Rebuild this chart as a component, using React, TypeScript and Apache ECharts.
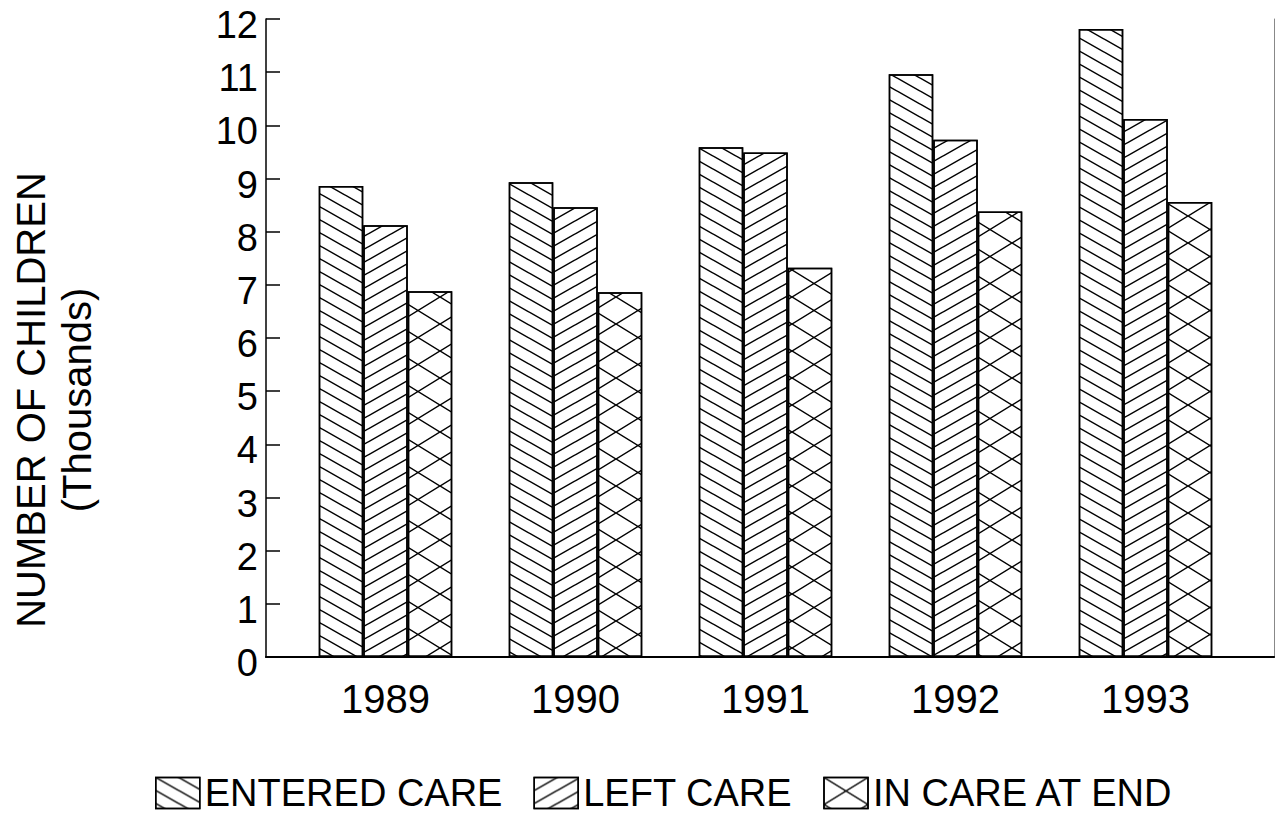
import React, { useEffect, useRef } from 'react';
import * as echarts from 'echarts';

const years = ['1989', '1990', '1991', '1992', '1993'];
const enteredCare = [8.86, 8.93, 9.59, 10.96, 11.81];
const leftCare = [8.12, 8.46, 9.49, 9.73, 10.12];
const inCareAtEnd = [6.88, 6.86, 7.32, 8.38, 8.56];
const seriesNames = ['ENTERED CARE', 'LEFT CARE', 'IN CARE AT END'];
const yMin = 0;
const yMax = 12;
const yStep = 1;

const FONT = '"Liberation Sans", Arial, Helvetica, sans-serif';

type Pt = [number, number];

function poly(pts: Pt[]): string {
  let area = 0;
  for (let i = 0; i < pts.length; i++) {
    const [x1, y1] = pts[i];
    const [x2, y2] = pts[(i + 1) % pts.length];
    area += x1 * y2 - x2 * y1;
  }
  const p = area < 0 ? pts.slice().reverse() : pts;
  return 'M' + p.map((q) => q[0].toFixed(3) + ',' + q[1].toFixed(3)).join('L') + 'Z';
}

function downPolys(W: number, H: number, t: number): Pt[][] {
  const a = t / 2;
  const d = (a * H) / W;
  return [
    [[0, 0], [a, 0], [W, H - d], [W, H], [W - a, H], [0, d]],
    [[W - a, 0], [W, 0], [W, d]],
    [[0, H - d], [0, H], [a, H]],
  ];
}

function mirror(polys: Pt[][], W: number): Pt[][] {
  return polys.map((pp) => pp.map((q) => [W - q[0], q[1]] as Pt));
}

function hatchDecal(kind: 'down' | 'up' | 'cross', W: number, H: number, t: number) {
  const down = downPolys(W, H, t);
  let polys: Pt[][] = [];
  if (kind === 'down') polys = down;
  else if (kind === 'up') polys = mirror(down, W);
  else polys = down.concat(mirror(down, W));
  const d = polys.map(poly).join(' ');
  return {
    symbol: 'path://' + d,
    symbolSize: 1,
    symbolKeepAspect: false,
    color: '#000',
    dashArrayX: [W, 0],
    dashArrayY: [H, 0],
    rotation: 0,
  };
}

const decals = [
  hatchDecal('down', 23, 13, 3),
  hatchDecal('up', 23, 13, 3),
  hatchDecal('cross', 44, 27, 2.8),
];

const values = [enteredCare, leftCare, inCareAtEnd];

export default function App() {
  const ref = useRef<HTMLDivElement>(null);

  useEffect(() => {
    document.body.style.margin = '0';
    if (!ref.current) return;
    const chart = echarts.init(ref.current, null, { renderer: 'svg' });
    const option: any = {
      animation: false,
      backgroundColor: '#fff',
      textStyle: { fontFamily: FONT, color: '#000' },
      grid: [
        { left: 256, right: 1, top: 19, bottom: 160 },
        { left: 290.5, right: 34.5, top: 19, bottom: 160 },
      ],
      xAxis: [
        {
          gridIndex: 0,
          type: 'category',
          data: years,
          axisLabel: { show: false },
          axisTick: { show: false },
          axisLine: { show: true, lineStyle: { color: '#000', width: 1.5 } },
        },
        {
          gridIndex: 1,
          type: 'category',
          data: years,
          axisLine: { show: false },
          axisTick: { show: false },
          axisLabel: { fontSize: 40, color: '#000', margin: 22, fontFamily: FONT },
        },
        {
          gridIndex: 0,
          type: 'category',
          position: 'top',
          data: years,
          axisLabel: { show: false },
          axisTick: { show: false },
          axisLine: { show: true, lineStyle: { color: '#000', width: 2 } },
        },
      ],
      yAxis: [
        {
          gridIndex: 0,
          type: 'value',
          min: yMin,
          max: yMax,
          interval: yStep,
          splitLine: { show: false },
          axisLine: { show: true, lineStyle: { color: '#000', width: 1.5 } },
          axisTick: { show: true, inside: true, length: 14, lineStyle: { color: '#000', width: 1.5 } },
          axisLabel: {
            fontSize: 38,
            lineHeight: 12,
            verticalAlign: 'top',
            color: '#000',
            margin: 8,
            fontFamily: FONT,
          },
          name: 'NUMBER OF CHILDREN\n(Thousands)',
          nameLocation: 'middle',
          nameRotate: 90,
          nameGap: 166,
          nameTextStyle: { fontSize: 40, lineHeight: 46, color: '#000', fontFamily: FONT, padding: [0, 124, 0, 0] },
        },
        { gridIndex: 1, type: 'value', min: yMin, max: yMax, interval: yStep, show: false },
        {
          gridIndex: 0,
          type: 'value',
          position: 'right',
          min: yMin,
          max: yMax,
          interval: yStep,
          splitLine: { show: false },
          axisLabel: { show: false },
          axisTick: { show: false },
          axisLine: { show: true, lineStyle: { color: '#888', width: 1 } },
        },
      ],
      legend: {
        left: 155,
        top: 774,
        padding: 0,
        itemWidth: 44,
        itemHeight: 31,
        itemGap: 31,
        icon: 'rect',
        selectedMode: false,
        data: seriesNames,
        itemStyle: { borderColor: '#000', borderWidth: 1.5 },
        textStyle: { fontSize: 38, color: '#000', fontFamily: FONT },
      },
      series: seriesNames.map((name, i) => ({
        name,
        type: 'bar',
        xAxisIndex: 1,
        yAxisIndex: 1,
        data: values[i],
        barWidth: 44.5,
        barGap: '0%',
        itemStyle: { color: '#fff', borderColor: '#000', borderWidth: 1.5, decal: decals[i] },
        emphasis: { disabled: true },
      })),
    };
    chart.setOption(option);
    return () => chart.dispose();
  }, []);

  return <div ref={ref} style={{ width: 1275, height: 817 }} />;
}
